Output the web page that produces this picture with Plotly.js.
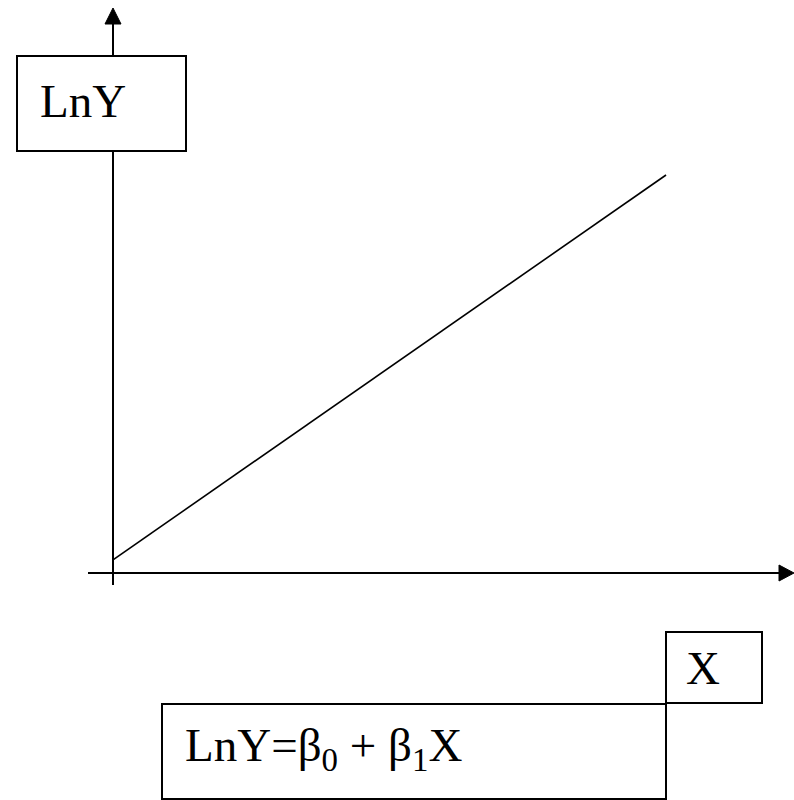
<!DOCTYPE html>
<html>
<head>
<meta charset="utf-8">
<script src="https://cdn.plot.ly/plotly-3.0.1.min.js"></script>
<style>html,body{margin:0;padding:0;background:#fff;}#chart{width:794px;height:800px;}</style>
</head>
<body>
<div id="chart"></div>
<script>
// Data: regression line LnY = b0 + b1*X
const xValues = [0, 10];
const lnYValues = [0.33, 10];
const yLabel = "LnY";
const xLabel = "X";
const equationText = "LnY=\u03B2<sub>0</sub> + \u03B2<sub>1</sub>X";

const W = 794, H = 800;
const px = v => v / W;
const py = v => 1 - v / H;
const font = {family: "Liberation Serif, Times New Roman, serif", size: 47, color: "#000"};

const trace = {
  x: xValues, y: lnYValues, mode: "lines", type: "scatter",
  line: {color: "#000", width: 1.6}, hoverinfo: "skip", showlegend: false
};

const axisLine = {color: "#000", width: 2};
const ox = 113, oy = 573; // origin in pixels

const layout = {
  width: W, height: H,
  margin: {l: 0, r: 0, t: 0, b: 0},
  paper_bgcolor: "#fff", plot_bgcolor: "#fff",
  xaxis: {range: [-2.043, 12.314], visible: false, fixedrange: true},
  yaxis: {range: [-5.704, 14.397], visible: false, fixedrange: true},
  showlegend: false,
  shapes: [
    // Axes
    {type: "line", xref: "paper", yref: "paper", x0: px(ox), x1: px(ox), y0: py(585), y1: py(20), line: axisLine, layer: "below"},
    {type: "line", xref: "paper", yref: "paper", x0: px(88), x1: px(782), y0: py(oy), y1: py(oy), line: axisLine, layer: "below"},
    // Arrowheads
    {type: "path", xref: "paper", yref: "paper",
     path: `M ${px(ox)} ${py(8)} L ${px(ox - 8)} ${py(24)} L ${px(ox + 8)} ${py(24)} Z`,
     fillcolor: "#000", line: {color: "#000", width: 1}},
    {type: "path", xref: "paper", yref: "paper",
     path: `M ${px(794)} ${py(oy)} L ${px(779)} ${py(oy - 8)} L ${px(779)} ${py(oy + 8)} Z`,
     fillcolor: "#000", line: {color: "#000", width: 1}},
    // Label boxes (white filled, covering axis)
    {type: "rect", xref: "paper", yref: "paper", x0: px(17), x1: px(186), y0: py(56), y1: py(151), fillcolor: "#fff", line: {color: "#000", width: 2}, layer: "above"},
    {type: "rect", xref: "paper", yref: "paper", x0: px(666), x1: px(762), y0: py(632), y1: py(703), fillcolor: "#fff", line: {color: "#000", width: 2}, layer: "above"},
    {type: "rect", xref: "paper", yref: "paper", x0: px(162), x1: px(666), y0: py(704), y1: py(799), fillcolor: "#fff", line: {color: "#000", width: 2}, layer: "above"}
  ],
  annotations: [
    {x: px(38), y: py(101), xref: "paper", yref: "paper", xanchor: "left", yanchor: "middle", text: yLabel, showarrow: false, font: font},
    {x: px(684), y: py(668), xref: "paper", yref: "paper", xanchor: "left", yanchor: "middle", text: xLabel, showarrow: false, font: font},
    {x: px(183), y: py(748), xref: "paper", yref: "paper", xanchor: "left", yanchor: "middle", text: equationText, showarrow: false, font: font}
  ]
};

Plotly.newPlot("chart", [trace], layout, {displayModeBar: false, staticPlot: true});
</script>
</body>
</html>
